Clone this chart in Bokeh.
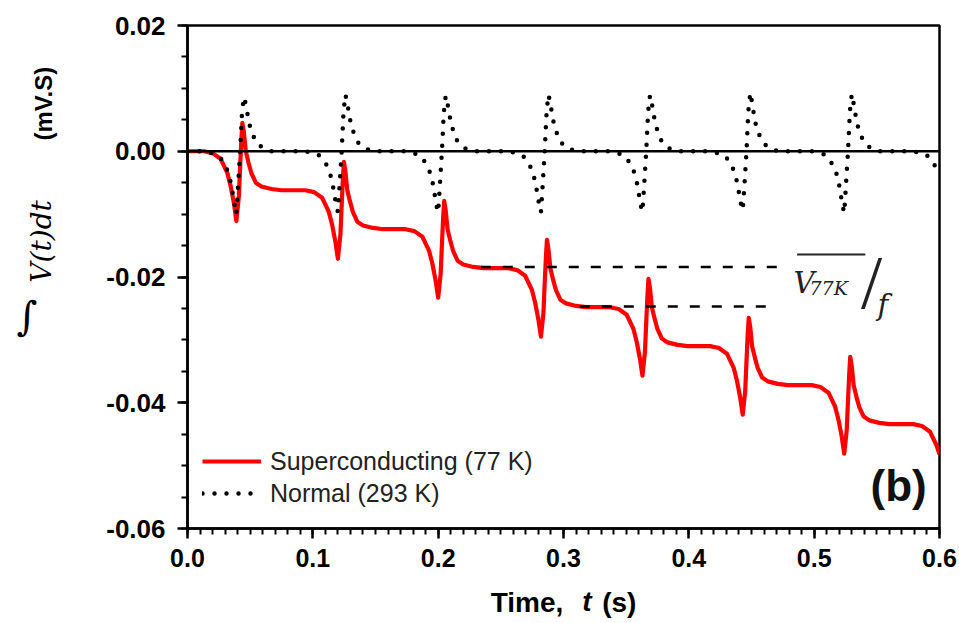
import math
from bokeh.plotting import figure
from bokeh.models import (Label, Span, Legend, LegendItem, FixedTicker,
                          LinearAxis, PrintfTickFormatter, Range1d)
from bokeh.embed import file_html
from bokeh.resources import INLINE

# ---------------- data ----------------
sc_t = [0.000,
        0.013, 0.020, 0.0264, 0.0317, 0.0344, 0.037, 0.039, 0.041, 0.0419, 0.043, 0.0438, 0.045, 0.0465, 0.0488, 0.051, 0.0545, 0.059, 0.067, 0.075,
        0.094, 0.101, 0.1074, 0.1127, 0.1154, 0.118, 0.120, 0.122, 0.1229, 0.124, 0.1248, 0.126, 0.1275, 0.1298, 0.132, 0.1355, 0.140, 0.148, 0.156,
        0.174, 0.181, 0.1874, 0.1927, 0.1954, 0.198, 0.200, 0.202, 0.2029, 0.204, 0.2048, 0.206, 0.2075, 0.2098, 0.212, 0.2155, 0.220, 0.228, 0.236,
        0.256, 0.263, 0.2694, 0.2747, 0.2774, 0.280, 0.282, 0.284, 0.2849, 0.286, 0.2868, 0.288, 0.2895, 0.2918, 0.294, 0.2975, 0.302, 0.310, 0.318,
        0.337, 0.344, 0.3504, 0.3557, 0.3584, 0.361, 0.363, 0.365, 0.3659, 0.367, 0.3678, 0.369, 0.3705, 0.3728, 0.375, 0.3785, 0.383, 0.391, 0.399,
        0.417, 0.424, 0.4304, 0.4357, 0.4384, 0.441, 0.443, 0.445, 0.4459, 0.447, 0.4478, 0.449, 0.4505, 0.4528, 0.455, 0.4585, 0.463, 0.471, 0.479,
        0.498, 0.505, 0.5114, 0.5167, 0.5194, 0.522, 0.524, 0.526, 0.5269, 0.528, 0.5288, 0.530, 0.5315, 0.5338, 0.536, 0.5395, 0.544, 0.552, 0.560,
        0.579, 0.586, 0.5924, 0.5977, 0.600]
sc_v = [0.0,
        0.0, -0.0003, -0.0012, -0.0034, -0.0055, -0.0082, -0.0111, -0.0071, -0.0029, 0.0019, 0.0045, 0.0030, 0.0000, -0.0019, -0.0035, -0.0050, -0.0056, -0.0060, -0.0062,
        -0.0062, -0.0065, -0.0074, -0.0096, -0.0117, -0.0144, -0.0171, -0.0133, -0.0091, -0.0043, -0.0017, -0.0032, -0.0062, -0.0081, -0.0097, -0.0112, -0.0118, -0.0122, -0.0124,
        -0.0124, -0.0127, -0.0136, -0.0158, -0.0179, -0.0206, -0.0233, -0.0195, -0.0153, -0.0105, -0.0079, -0.0094, -0.0124, -0.0143, -0.0159, -0.0174, -0.0180, -0.0184, -0.0186,
        -0.0186, -0.0189, -0.0198, -0.0220, -0.0241, -0.0268, -0.0295, -0.0257, -0.0215, -0.0167, -0.0141, -0.0156, -0.0186, -0.0205, -0.0221, -0.0236, -0.0242, -0.0246, -0.0248,
        -0.0248, -0.0251, -0.0260, -0.0282, -0.0303, -0.0330, -0.0357, -0.0319, -0.0277, -0.0229, -0.0203, -0.0218, -0.0248, -0.0267, -0.0283, -0.0298, -0.0304, -0.0308, -0.0310,
        -0.0310, -0.0313, -0.0322, -0.0344, -0.0365, -0.0392, -0.0419, -0.0381, -0.0339, -0.0291, -0.0265, -0.0280, -0.0310, -0.0329, -0.0345, -0.0360, -0.0366, -0.0370, -0.0372,
        -0.0372, -0.0375, -0.0384, -0.0406, -0.0427, -0.0454, -0.0481, -0.0443, -0.0401, -0.0353, -0.0327, -0.0342, -0.0372, -0.0391, -0.0407, -0.0422, -0.0428, -0.0432, -0.0434,
        -0.0434, -0.0437, -0.0446, -0.0468, -0.0482]

nm_t = [0.000,
        0.013, 0.023, 0.026, 0.030, 0.0327, 0.0348, 0.0368, 0.038, 0.039, 0.0405, 0.042, 0.0435, 0.045, 0.0465, 0.048, 0.0495, 0.052, 0.0545, 0.060, 0.067,
        0.094, 0.104, 0.107, 0.111, 0.1137, 0.1158, 0.1178, 0.119, 0.120, 0.1215, 0.123, 0.1245, 0.126, 0.1275, 0.129, 0.1305, 0.133, 0.1355, 0.141, 0.148,
        0.174, 0.184, 0.187, 0.191, 0.1937, 0.1958, 0.1978, 0.199, 0.200, 0.2015, 0.203, 0.2045, 0.206, 0.2075, 0.209, 0.2105, 0.213, 0.2155, 0.221, 0.228,
        0.256, 0.266, 0.269, 0.273, 0.2757, 0.2778, 0.2798, 0.281, 0.282, 0.2835, 0.285, 0.2865, 0.288, 0.2895, 0.291, 0.2925, 0.295, 0.2975, 0.303, 0.310,
        0.337, 0.347, 0.350, 0.354, 0.3567, 0.3588, 0.3608, 0.362, 0.363, 0.3645, 0.366, 0.3675, 0.369, 0.3705, 0.372, 0.3735, 0.376, 0.3785, 0.384, 0.391,
        0.417, 0.427, 0.430, 0.434, 0.4367, 0.4388, 0.4408, 0.442, 0.443, 0.4445, 0.446, 0.4475, 0.449, 0.4505, 0.452, 0.4535, 0.456, 0.4585, 0.464, 0.471,
        0.498, 0.508, 0.511, 0.515, 0.5177, 0.5198, 0.5218, 0.523, 0.524, 0.5255, 0.527, 0.5285, 0.530, 0.5315, 0.533, 0.5345, 0.537, 0.5395, 0.545, 0.552,
        0.579, 0.589, 0.592, 0.596, 0.600]
nm_v = [0.0,
        0.0, -0.0005, -0.0010, -0.0022, -0.0035, -0.0052, -0.0076, -0.0090, -0.0100, -0.0050, 0.0000, 0.0062, 0.0086, 0.0075, 0.0058, 0.0042, 0.0027, 0.0015, 0.0005, 0.0,
        0.0, -0.0005, -0.0010, -0.0022, -0.0035, -0.0052, -0.0076, -0.0090, -0.0096, -0.0050, 0.0000, 0.0063, 0.0090, 0.0076, 0.0058, 0.0042, 0.0027, 0.0015, 0.0005, 0.0,
        0.0, -0.0005, -0.0010, -0.0022, -0.0035, -0.0052, -0.0076, -0.0090, -0.0097, -0.0050, 0.0000, 0.0062, 0.0088, 0.0075, 0.0058, 0.0042, 0.0027, 0.0015, 0.0005, 0.0,
        0.0, -0.0005, -0.0010, -0.0022, -0.0035, -0.0052, -0.0076, -0.0090, -0.0097, -0.0050, 0.0000, 0.0063, 0.0090, 0.0076, 0.0058, 0.0042, 0.0027, 0.0015, 0.0005, 0.0,
        0.0, -0.0005, -0.0010, -0.0022, -0.0035, -0.0052, -0.0076, -0.0090, -0.0096, -0.0050, 0.0000, 0.0062, 0.0089, 0.0076, 0.0058, 0.0042, 0.0027, 0.0015, 0.0005, 0.0,
        0.0, -0.0005, -0.0010, -0.0022, -0.0035, -0.0052, -0.0076, -0.0088, -0.0094, -0.0050, 0.0000, 0.0064, 0.0093, 0.0077, 0.0058, 0.0042, 0.0027, 0.0015, 0.0005, 0.0,
        0.0, -0.0005, -0.0010, -0.0022, -0.0035, -0.0052, -0.0076, -0.0090, -0.0098, -0.0050, 0.0000, 0.0063, 0.0091, 0.0076, 0.0058, 0.0042, 0.0027, 0.0015, 0.0005, 0.0,
        0.0, -0.0005, -0.0010, -0.0022, -0.0032]

# dashed guide lines marking the plateau step (V77K / f)
guide_level = [-0.0184, -0.0247]
guide_t0 = [0.234, 0.313]
guide_t1 = [0.476, 0.468]

series_names = ["Superconducting (77 K)", "Normal (293 K)"]

x_ticks = [0.0, 0.1, 0.2, 0.3, 0.4, 0.5, 0.6]
x_minor = [i / 100 for i in range(0, 61)]
y_ticks = [-0.06, -0.04, -0.02, 0.0, 0.02]
y_minor = [i / 1000 for i in range(-60, 21, 5)]

NB = "\u00a0"

# ---------------- figure ----------------
p = figure(output_backend="svg", toolbar_location=None,
           frame_width=752, frame_height=503,
           min_border_left=187, min_border_right=18, min_border_top=25, min_border_bottom=90,
           x_range=Range1d(0, 0.6), y_range=Range1d(-0.06, 0.02))
p.xgrid.visible = False
p.ygrid.visible = False
p.outline_line_color = "black"
p.outline_line_width = 2.5
p.outline_line_alpha = 1.0
p.background_fill_color = "white"
p.border_fill_color = "white"

for ax in (p.xaxis[0], p.yaxis[0]):
    ax.axis_line_width = 2.5
    ax.major_tick_line_width = 2.5
    ax.minor_tick_line_width = 2
    ax.major_tick_in = 0
    ax.major_tick_out = 10
    ax.minor_tick_in = 0
    ax.minor_tick_out = 6
    ax.major_label_text_font = "Liberation Sans"
    ax.major_label_text_font_style = "bold"
    ax.major_label_text_color = "black"

p.xaxis[0].ticker = FixedTicker(ticks=x_ticks, minor_ticks=x_minor)
p.xaxis[0].formatter = PrintfTickFormatter(format="%.1f")
p.xaxis[0].major_label_standoff = 10
p.xaxis[0].major_label_text_font_size = "25px"
p.yaxis[0].ticker = FixedTicker(ticks=y_ticks, minor_ticks=y_minor)
p.yaxis[0].formatter = PrintfTickFormatter(format="%.2f")
p.yaxis[0].major_label_standoff = 12
p.yaxis[0].major_label_text_font_size = "26px"


def title_axis(side, text, standoff, font, style, size, orientation="parallel", line_height=1.2):
    """A tick-less axis used only to carry one styled piece of an axis title."""
    ax = LinearAxis(ticker=FixedTicker(ticks=[]),
                    axis_line_color=None, major_tick_line_color=None, minor_tick_line_color=None,
                    major_label_standoff=0, major_tick_out=0, minor_tick_out=0,
                    axis_label=text, axis_label_standoff=standoff,
                    axis_label_text_font=font, axis_label_text_font_style=style,
                    axis_label_text_font_size=size, axis_label_text_color="black",
                    axis_label_text_line_height=line_height,
                    axis_label_orientation=orientation)
    p.add_layout(ax, side)


# x-axis title: "Time,  t (s)"  (bold, with an italic t laid over the gap)
title_axis("below", "Time," + NB * 5 + "(s)", 17, "Liberation Sans", "bold", "28px")
title_axis("below", NB * 6 + "t", -35, "Liberation Sans", "bold italic", "28px")

# y-axis title: integral sign, "V(t)dt", "(mV.S)"
title_axis("left", NB * 52 + "(mV.S)", 47, "Liberation Sans", "bold", "24px")
title_axis("left", NB * 8 + "V(t)dt", -31, "DejaVu Serif", "italic", "28px")
title_axis("left", NB + "\n" + NB + "\n\u222b", -16, "DejaVu Serif", "italic", "40px",
           orientation="horizontal", line_height=0.85)

p.add_layout(Span(location=0, dimension="width", line_color="black", line_width=2.5))

r_sc = p.line(sc_t, sc_v, line_color="#ff0000", line_width=4.2, line_join="round")
r_nm = p.line(nm_t, nm_v, line_color="black", line_width=4.5, line_dash="0 12",
              line_cap="round", line_join="round")

p.segment(x0=guide_t0, y0=guide_level, x1=guide_t1, y1=guide_level,
          line_color="black", line_width=2.5, line_dash="10 12")

legend = Legend(items=[LegendItem(label=series_names[0], renderers=[r_sc]),
                       LegendItem(label=series_names[1], renderers=[r_nm])],
                location=(15, 19), padding=0, spacing=0, margin=0,
                glyph_width=59, glyph_height=32, label_height=32, label_standoff=9,
                label_text_font="Liberation Sans", label_text_font_size="25px",
                label_text_color="#222222",
                border_line_color=None, background_fill_alpha=0)
p.add_layout(legend)


def lab(text, x, y, **kw):
    p.add_layout(Label(text=text, x=x, y=y, x_units="screen", y_units="screen", **kw))


# panel tag
lab("(b)", 683, 43, text_font="Liberation Sans", text_font_style="bold",
    text_font_size="44px", text_color="#111111", text_baseline="middle")

# V77K / f annotation
p.segment(x0=[0.4864], y0=[-0.01643], x1=[0.5408], y1=[-0.01643], line_color="#222222", line_width=2)
lab("V", 606, 246, text_font="DejaVu Serif", text_font_style="italic",
    text_font_size="29px", text_color="#222222", text_baseline="alphabetic")
lab("77K", 622, 241, text_font="DejaVu Serif", text_font_style="italic",
    text_font_size="19px", text_color="#222222", text_baseline="alphabetic")
lab("/", 684, 247, text_font="Liberation Serif", text_font_size="76px",
    text_color="#222222", text_align="center", text_baseline="middle")
lab("f", 690, 224, text_font="DejaVu Serif", text_font_style="italic",
    text_font_size="29px", text_color="#222222", text_baseline="alphabetic")

open("out.html", "w").write(file_html(p, INLINE))
